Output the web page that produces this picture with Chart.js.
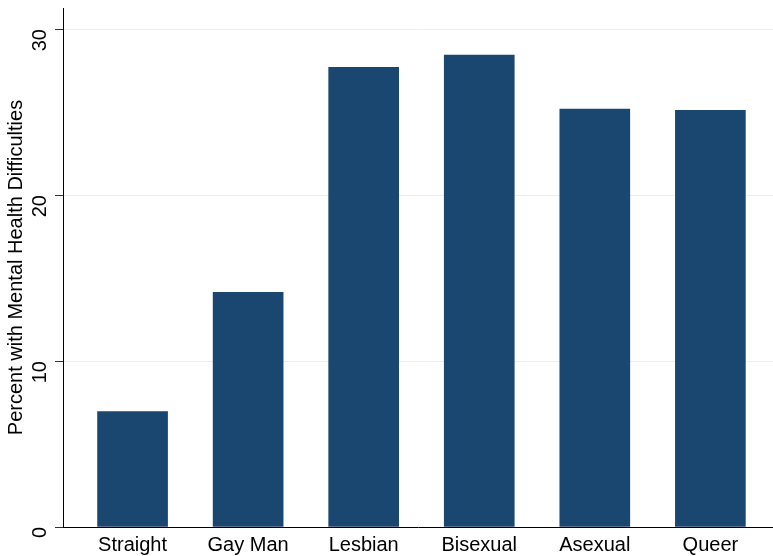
<!DOCTYPE html>
<html>
<head>
<meta charset="utf-8">
<script src="https://cdn.jsdelivr.net/npm/chart.js@4"></script>
<style>
  html, body { margin: 0; padding: 0; background: #fff; }
  #wrap { width: 773px; height: 556px; }
</style>
</head>
<body>
<div id="wrap"><canvas id="chart" width="773" height="556"></canvas></div>
<script>
// Values
let categories = ['Straight', 'Gay Man', 'Lesbian', 'Bisexual', 'Asexual', 'Queer'];
let percentValues = [6.95, 14.14, 27.69, 28.43, 25.18, 25.1];
let yTickValues = [0, 10, 20, 30];

let barColor = '#1a476f';
let fontFamily = "'Liberation Sans', Arial, Helvetica, sans-serif";

let points = categories.map((c, i) => ({ x: i, y: percentValues[i] }));

let chartCanvas = document.getElementById('chart');

let barChart = new Chart(chartCanvas.getContext('2d'), {
  type: 'bar',
  data: {
    datasets: [{
      data: points,
      backgroundColor: barColor,
      borderWidth: 0,
      barThickness: 70
    }]
  },
  options: {
    responsive: false,
    animation: false,
    layout: { padding: { top: 8, right: 0, left: 4, bottom: 0 } },
    plugins: {
      legend: { display: false },
      tooltip: { enabled: false }
    },
    scales: {
      x: {
        type: 'linear',
        min: -0.602,
        max: 5.542,
        offset: false,
        afterBuildTicks: (scale) => {
          scale.ticks = categories.map((c, i) => ({ value: i }));
        },
        afterFit: (scale) => {
          scale.height = 29;
          scale.paddingLeft = 0;
          scale.paddingRight = 0;
        },
        grid: { display: false, drawTicks: false },
        border: { display: true, color: '#000', width: 1 },
        ticks: {
          callback: (v) => categories[v],
          color: '#000',
          font: { family: fontFamily, size: 20 },
          padding: 6,
          maxRotation: 0,
          minRotation: 0,
          autoSkip: false
        }
      },
      y: {
        min: 0,
        max: 31.27,
        afterBuildTicks: (scale) => {
          scale.ticks = yTickValues.map(v => ({ value: v }));
        },
        afterFit: (scale) => {
          scale.width = 59;
          scale.paddingTop = 0;
          scale.paddingBottom = 0;
        },
        grid: {
          color: (ctx) => ctx.tick && ctx.tick.value === 0 ? 'rgba(0,0,0,0)' : '#e6f0f1',
          tickColor: '#333',
          tickLength: 8,
          lineWidth: 1
        },
        border: { display: true, color: '#000', width: 1 },
        ticks: {
          color: '#000',
          font: { family: fontFamily, size: 20 },
          minRotation: 90,
          maxRotation: 90,
          padding: 15
        },
        title: {
          display: true,
          text: 'Percent with Mental Health Difficulties',
          color: '#000',
          font: { family: fontFamily, size: 20 },
          padding: { top: 0, bottom: 4 }
        }
      }
    }
  }
});
</script>
</body>
</html>
